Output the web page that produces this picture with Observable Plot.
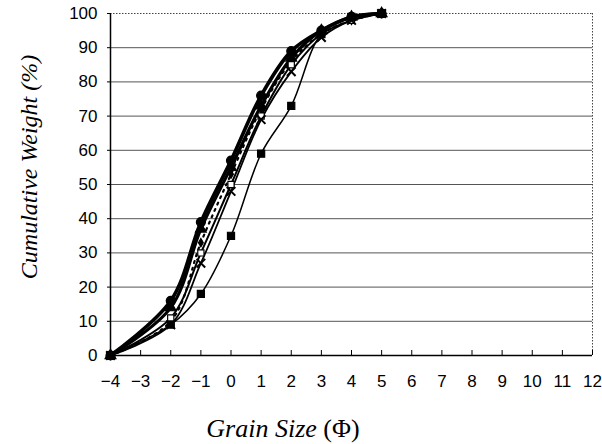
<!DOCTYPE html>
<html>
<head>
<meta charset="utf-8">
<script src="https://cdn.jsdelivr.net/npm/d3@7"></script>
<script src="https://cdn.jsdelivr.net/npm/@observablehq/plot@0.6"></script>
<style>
  html, body { margin: 0; padding: 0; background: #fff; }
  #chart svg { display: block; }
</style>
</head>
<body>
<div id="chart"></div>
<script>
// Grain size (phi) sample positions
const phi = [-4, -2, -1, 0, 1, 2, 3, 4, 5];
// Cumulative weight (%) for each sample curve
const seriesCircle   = [0, 16, 39, 57, 76, 89, 95, 99, 100];
const seriesTriangle = [0, 14, 37, 55, 73, 87, 95, 99, 100];
const seriesDotted   = [0, 10, 33, 53, 72, 86, 94, 98, 100];
const seriesOpenSq   = [0, 11, 30, 50, 70, 85, 94, 98, 100];
const seriesCross    = [0, 9, 27, 48, 69, 83, 93, 98, 100];
const seriesSquare   = [0, 9, 18, 35, 59, 73, 94, 99, 100];
const xTicks = d3.range(-4, 13, 1);
const yTicks = d3.range(0, 101, 10);
const gridY = d3.range(10, 100, 10);

const seriesDefs = [
  {name: "circle", values: seriesCircle, width: 3.6, dash: null, symbol: "circle", r: 4.5, fill: "black"},
  {name: "triangle", values: seriesTriangle, width: 3.2, dash: null, symbol: "triangle", r: 4, fill: "black"},
  {name: "dotted", values: seriesDotted, width: 2.2, dash: "2,5", symbol: "diamond", r: 2.5, fill: "black"},
  {name: "opensq", values: seriesOpenSq, width: 2, dash: null, symbol: "square", r: 3.5, fill: "white"},
  {name: "cross", values: seriesCross, width: 1.8, dash: null, symbol: "times", r: 4, fill: "none"},
  {name: "square", values: seriesSquare, width: 1.5, dash: null, symbol: "square", r: 4, fill: "black"}
];

const marks = [
  Plot.ruleY(gridY, {stroke: "#555", strokeWidth: 1}),
  Plot.ruleY([100], {stroke: "#444", strokeWidth: 1, strokeDasharray: "1.5,1.5"}),
  Plot.ruleX([12], {stroke: "#444", strokeWidth: 1, strokeDasharray: "1.5,1.5"}),
  Plot.ruleX([-4], {stroke: "black", strokeWidth: 1.5}),
  Plot.ruleY([0], {stroke: "black", strokeWidth: 1.5}),
  Plot.axisX({ticks: xTicks, tickSize: -5, tickFormat: () => "", stroke: "black"}),
  Plot.axisX({ticks: xTicks, tickSize: 0, tickPadding: 19, tickFormat: d => d < 0 ? "\u2212" + (-d) : String(d), fontSize: 17, fill: "black"}),
  Plot.axisY({ticks: yTicks, tickSize: 3, tickPadding: 10, fontSize: 17, fill: "black"})
];

for (const s of seriesDefs) {
  const data = phi.map((x, i) => ({x, y: s.values[i]}));
  marks.push(Plot.line(data, {x: "x", y: "y", curve: "catmull-rom", stroke: "black", strokeWidth: s.width, strokeDasharray: s.dash}));
}
for (const s of seriesDefs) {
  const data = phi.map((x, i) => ({x, y: s.values[i]}));
  marks.push(Plot.dot(data, {x: "x", y: "y", symbol: s.symbol, r: s.r, fill: s.fill, stroke: "black", strokeWidth: s.symbol === "times" ? 2 : 1.2}));
}

const chart = Plot.plot({
  width: 602,
  height: 444,
  marginLeft: 110,
  marginRight: 10,
  marginTop: 13,
  marginBottom: 89,
  style: {fontFamily: "'Liberation Sans', Arial, sans-serif", background: "white", color: "black"},
  x: {domain: [-4, 12], label: null},
  y: {domain: [0, 100], label: null},
  marks
});

const svg = d3.select(chart);
svg.append("text")
  .attr("x", 283).attr("y", 437)
  .attr("text-anchor", "middle")
  .attr("font-family", "'Liberation Serif', 'Times New Roman', serif")
  .attr("font-size", 26)
  .attr("fill", "black")
  .call(t => {
    t.append("tspan").attr("font-style", "italic").text("Grain Size ");
    t.append("tspan").text("(\u03A6)");
  });
svg.append("text")
  .attr("transform", "translate(37,167) rotate(-90)")
  .attr("text-anchor", "middle")
  .attr("font-family", "'Liberation Serif', 'Times New Roman', serif")
  .attr("font-size", 24)
  .attr("font-style", "italic")
  .attr("fill", "black")
  .text("Cumulative Weight (%)");

document.getElementById("chart").appendChild(chart);
</script>
</body>
</html>
